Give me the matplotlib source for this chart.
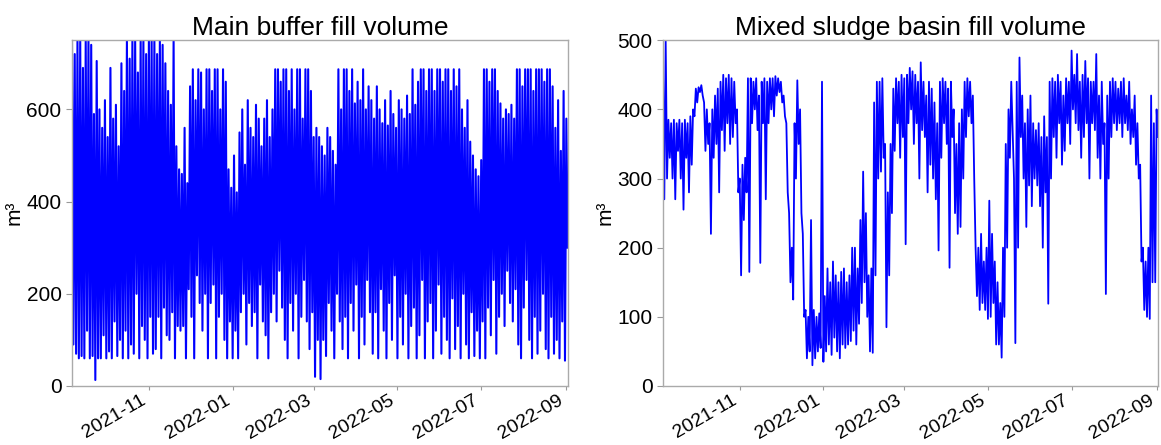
import numpy as np
import pandas as pd
import matplotlib
matplotlib.use("Agg")
import matplotlib.pyplot as plt
import matplotlib.dates as mdates

plt.rcParams['font.family'] = ['Liberation Sans', 'DejaVu Sans']

START = "2021-09-06"

# Main buffer: upper peaks (even days) and lower troughs (odd days), read every 2 days
buffer_hi = [
    750, 720, 750, 750, 690, 750, 750, 740, 590, 705,
    600, 560, 620, 540, 690, 580, 610, 520, 700, 640,
    750, 710, 750, 750, 680, 750, 750, 720, 750, 750,
    750, 720, 750, 740, 700, 640, 610, 750, 520, 470,
    460, 560, 440, 650, 687, 620, 687, 680, 600, 687,
    687, 640, 687, 687, 600, 687, 660, 470, 430, 500,
    420, 550, 600, 480, 620, 560, 540, 610, 580, 520,
    580, 620, 540, 600, 687, 687, 660, 687, 687, 640,
    687, 600, 687, 687, 580, 687, 687, 640, 540, 560,
    540, 520, 500, 560, 540, 510, 480, 687, 600, 687,
    687, 640, 687, 613, 660, 620, 687, 600, 650, 620,
    580, 650, 600, 570, 620, 565, 640, 590, 560, 620,
    600, 580, 630, 590, 687, 610, 660, 687, 687, 640,
    687, 687, 640, 687, 687, 660, 687, 687, 640, 687,
    650, 687, 600, 560, 620, 530, 500, 470, 455, 490,
    687, 687, 660, 687, 687, 640, 613, 580, 600, 590,
    610, 580, 687, 687, 650, 687, 687, 687, 640, 687,
    687, 687, 660, 687, 687, 650, 560, 620, 510, 640,
    580,
]
buffer_lo = [
    90, 70, 60, 65, 60, 120, 60, 65, 13, 60,
    60, 110, 60, 75, 60, 140, 65, 100, 60, 120,
    60, 90, 70, 200, 60, 130, 100, 60, 150, 70,
    80, 150, 60, 170, 110, 100, 160, 60, 130, 120,
    130, 60, 210, 150, 60, 240, 180, 120, 200, 60,
    180, 220, 60, 150, 200, 100, 60, 140, 60, 120,
    60, 160, 200, 90, 180, 130, 160, 60, 220, 140,
    110, 60, 160, 200, 140, 250, 170, 100, 60, 180,
    120, 200, 60, 150, 230, 140, 80, 160, 20, 100,
    15, 100, 65, 180, 120, 60, 200, 140, 80, 150,
    60, 180, 120, 220, 60, 150, 90, 230, 160, 70,
    160, 60, 210, 120, 60, 180, 100, 240, 60, 150,
    90, 200, 60, 130, 170, 60, 110, 230, 60, 140,
    180, 60, 120, 220, 70, 150, 100, 60, 190, 80,
    130, 60, 200, 90, 60, 160, 65, 120, 60, 140,
    60, 170, 110, 230, 70, 150, 200, 130, 250, 180,
    140, 210, 90, 60, 170, 230, 100, 60, 150, 70,
    120, 200, 80, 60, 150, 70, 100, 60, 140, 55,
    300,
]

# Mixed sludge basin: high (even days) and low (odd days), read every 2 days
sludge_hi = [
    470, 500, 385, 380, 385, 380, 385, 380, 385, 380,
    390, 400, 430, 432, 435, 410, 400, 380, 400, 420,
    430, 440, 450, 445, 450, 445, 440, 400, 300, 320,
    330, 445, 445, 440, 445, 420, 440, 445, 440, 445,
    445, 448, 445, 440, 420, 380, 250, 200, 380, 442,
    400, 220, 110, 100, 240, 110, 100, 105, 440, 130,
    170, 150, 180, 160, 150, 165, 170, 150, 160, 200,
    200, 170, 240, 310, 250, 160, 170, 410, 440, 440,
    445, 350, 280, 350, 430, 445, 440, 450, 445, 450,
    460, 455, 450, 440, 468, 440, 420, 440, 430, 410,
    380, 440, 445, 440, 430, 440, 400, 350, 380, 400,
    440, 445, 440, 420, 200, 200, 220, 180, 200, 268,
    220, 180, 150, 120, 200, 350, 400, 440, 300, 440,
    475, 420, 380, 400, 420, 380, 370, 380, 360, 390,
    360, 440, 445, 440, 450, 440, 420, 445, 440, 485,
    450, 480, 440, 450, 470, 445, 440, 440, 480, 420,
    440, 380, 420, 440, 445, 440, 430, 440, 445, 420,
    440, 400, 420, 380, 320, 200, 180, 200, 420, 380,
    400,
]
sludge_lo = [
    270, 300, 330, 300, 270, 340, 300, 255, 330, 280,
    320, 390, 410, 425, 420, 340, 350, 220, 330, 350,
    280, 370, 340, 380, 350, 360, 380, 280, 160, 240,
    280, 165, 380, 400, 370, 178, 380, 270, 380, 400,
    390, 420, 425, 410, 390, 280, 150, 125, 300, 350,
    250, 100, 40, 50, 30, 40, 50, 55, 35, 50,
    60, 45, 70, 50, 40, 60, 55, 60, 65, 80,
    60, 90, 120, 150, 100, 50, 48, 160, 300, 310,
    330, 85, 160, 250, 340, 380, 330, 360, 205, 380,
    400, 350, 380, 300, 370, 360, 280, 320, 300, 270,
    196, 330, 380, 350, 171, 360, 250, 220, 230, 300,
    360, 390, 380, 300, 130, 110, 120, 110, 97, 100,
    120, 60, 60, 41, 100, 200, 330, 370, 62, 200,
    360, 300, 230, 290, 260, 300, 290, 260, 200, 280,
    119, 300, 360, 330, 380, 320, 340, 380, 350, 400,
    380, 370, 330, 360, 380, 300, 380, 370, 330, 300,
    350, 133, 300, 360, 380, 370, 380, 360, 380, 370,
    350, 360, 320, 300, 180, 110, 100, 97, 150, 150,
    360,
]

TITLES = ["Main buffer fill volume", "Mixed sludge basin fill volume"]
YLABEL = "m³"
YLIMS = [(0, 750), (0, 500)]
YTICKS = [[0, 200, 400, 600], [0, 100, 200, 300, 400, 500]]
LINEWIDTHS = [1.5, 1.3]


def interleave(hi, lo):
    vals = []
    for h, l in zip(hi, lo):
        vals.append(h)
        vals.append(l)
    return np.array(vals, dtype=float)


def dates_for(n):
    return pd.date_range(START, periods=n, freq="D")


buf = interleave(buffer_hi, buffer_lo)
slu = interleave(sludge_hi, sludge_lo)
series = [buf, slu]

fig = plt.figure(figsize=(11.61, 4.45), dpi=100)
axes = [fig.add_axes([0.062, 0.1326, 0.427, 0.777]),
        fig.add_axes([0.571, 0.1326, 0.4264, 0.777])]

for ax, vals, title, ylim, yt, lw in zip(axes, series, TITLES, YLIMS, YTICKS, LINEWIDTHS):
    d = dates_for(len(vals))
    ax.plot(d, vals, color="#0000ff", lw=lw)
    ax.set_xlim(d[0], d[-1])
    ax.set_ylim(*ylim)
    ax.set_yticks(yt)
    ax.set_title(title, fontsize=19, pad=4)
    ax.set_ylabel(YLABEL, fontsize=15, labelpad=2)
    ax.xaxis.set_major_locator(mdates.MonthLocator(bymonth=[1, 3, 5, 7, 9, 11]))
    ax.xaxis.set_major_formatter(mdates.DateFormatter("%Y-%m"))
    ax.tick_params(axis="y", labelsize=15, color="#999999", length=4, width=0.8)
    ax.tick_params(axis="x", labelsize=14, color="#999999", length=3, width=0.8, pad=1)
    for lab in ax.get_xticklabels():
        lab.set_rotation(30)
        lab.set_ha("right")
    for sp in ax.spines.values():
        sp.set_color("#aaaaaa")
        sp.set_linewidth(1.0)

fig.savefig("out.png", dpi=100)
